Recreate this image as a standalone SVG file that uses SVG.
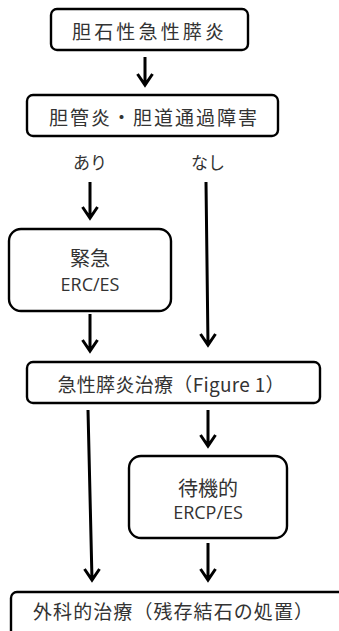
<svg xmlns="http://www.w3.org/2000/svg" width="339" height="631" viewBox="0 0 339 631">
<defs>
<style>
.box{fill:#fff;stroke:#000;stroke-width:2.4}
.t{font-family:"Noto Sans CJK JP","Noto Sans",sans-serif;font-size:19px;fill:#333;text-anchor:middle;dominant-baseline:central}
.e{font-family:"Open Sans","Noto Sans",sans-serif;font-size:18px;fill:#333;text-anchor:middle;dominant-baseline:central}
.c{stroke:#000;stroke-width:3;fill:none;stroke-linejoin:miter;stroke-miterlimit:10}
</style>
</defs>
<rect width="339" height="631" fill="#fff"/>
<g id="connectors">
<path class="c" d="M145,57 L145,85 M137.5,74 L145,85 L152.5,74"/>
<path class="c" d="M90,182 L90,218 M82.5,207 L90,218 L97.5,207"/>
<path class="c" d="M206,182 L208,345 M200.5,334 L208,345 L215.5,334"/>
<path class="c" d="M90,314 L90,351 M82.5,340 L90,351 L97.5,340"/>
<path class="c" d="M208,410 L208,446 M200.5,435 L208,446 L215.5,435"/>
<path class="c" d="M88,410 L92,580 M84.5,569 L92,580 L99.5,569"/>
<path class="c" d="M208,543 L208,580 M200.5,569 L208,580 L215.5,569"/>
</g>
<g id="n1">
<rect class="box" x="51" y="9" width="197" height="41" rx="6"/>
<text class="t" x="148" y="30" textLength="152" lengthAdjust="spacing">胆石性急性膵炎</text>
</g>
<g id="n2">
<rect class="box" x="27" y="95" width="251" height="41" rx="6"/>
<text class="t" x="153" y="116" textLength="208" lengthAdjust="spacing">胆管炎・胆道通過障害</text>
</g>
<g id="labels">
<text class="t" x="90" y="161" style="font-size:17px">あり</text>
<text class="t" x="208" y="161" style="font-size:17px">なし</text>
</g>
<g id="n3">
<rect class="box" x="9" y="229" width="162" height="82" rx="12"/>
<text class="t" x="90" y="257" style="font-size:20px">緊急</text>
<text class="e" x="90" y="284">ERC/ES</text>
</g>
<g id="n4">
<rect class="box" x="27" y="362" width="293" height="41" rx="6"/>
<text class="t" x="171" y="383" textLength="227" lengthAdjust="spacing">急性膵炎治療（Figure 1）</text>
</g>
<g id="n5">
<rect class="box" x="129" y="456" width="158" height="82" rx="12"/>
<text class="t" x="208" y="487" style="font-size:20px">待機的</text>
<text class="e" x="208" y="512">ERCP/ES</text>
</g>
<g id="n6">
<rect class="box" x="11" y="592" width="340" height="50" rx="6"/>
<text class="t" x="173" y="610" textLength="280" lengthAdjust="spacing">外科的治療（残存結石の処置）</text>
</g>
</svg>
